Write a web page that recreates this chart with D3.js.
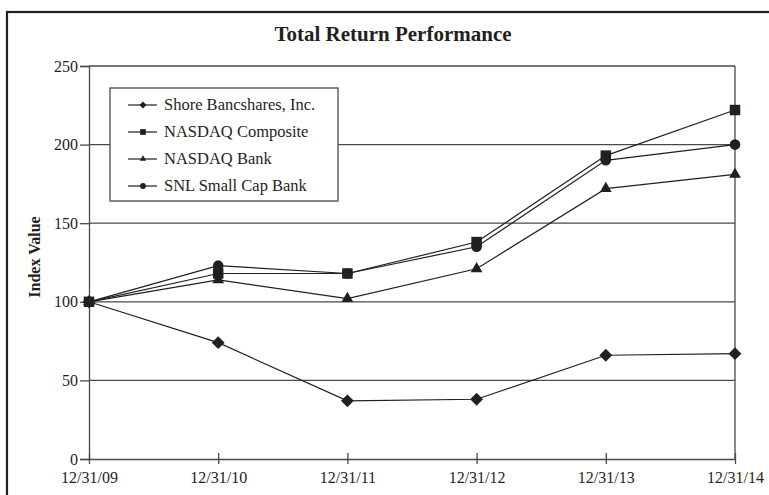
<!DOCTYPE html>
<html>
<head>
<meta charset="utf-8">
<script src="https://cdn.jsdelivr.net/npm/d3@7"></script>
<style>
  body { margin: 0; background: #fff; }
  svg { display: block; }
  svg text { font-family: "Liberation Serif", "Times New Roman", serif; }
</style>
</head>
<body>
<div id="chart"></div>
<script>
var dates = ["12/31/09", "12/31/10", "12/31/11", "12/31/12", "12/31/13", "12/31/14"];
var yTicks = [0, 50, 100, 150, 200, 250];

var shore = [100, 74, 37, 38, 66, 67];
var nasdaqComp = [100, 118, 118, 138, 193, 222];
var nasdaqBank = [100, 114, 102, 121, 172, 181];
var snlSmallCap = [100, 123, 118, 135, 190, 200];

var seriesNames = ["Shore Bancshares, Inc.", "NASDAQ Composite", "NASDAQ Bank", "SNL Small Cap Bank"];
var seriesValues = [shore, nasdaqComp, nasdaqBank, snlSmallCap];
var seriesSymbols = [d3.symbolDiamond2, d3.symbolSquare, d3.symbolTriangle, d3.symbolCircle];
var symbolSizes = [105, 110, 60, 88];

function init() {
    var W = 769, H = 495;
    var margin = {top: 66, right: 34, bottom: 36, left: 89};
    var w = W - margin.left - margin.right;
    var h = H - margin.top - margin.bottom;
    var ink = "#231f20";
    var grid = "#4a4a4a";

    var svg = d3.select("#chart").append("svg")
        .attr("width", W)
        .attr("height", H);

    // outer frame
    svg.append("rect")
        .attr("x", 7).attr("y", 12)
        .attr("width", W + 10).attr("height", H + 10)
        .attr("fill", "none")
        .attr("stroke", ink)
        .attr("stroke-width", 2.2);

    svg.append("text")
        .attr("x", 393).attr("y", 41)
        .attr("text-anchor", "middle")
        .attr("font-weight", "bold")
        .attr("font-size", 21)
        .attr("fill", ink)
        .text("Total Return Performance");

    var g = svg.append("g")
        .attr("transform", "translate(" + margin.left + "," + margin.top + ")");

    var x = d3.scalePoint().domain(dates).range([0, w]);
    var y = d3.scaleLinear().domain([0, 250]).range([h, 0]);

    // gridlines
    g.append("g").selectAll("line")
        .data(yTicks.filter(function(d) { return d > 0; }))
        .enter().append("line")
        .attr("x1", 0).attr("x2", w)
        .attr("y1", function(d) { return y(d); })
        .attr("y2", function(d) { return y(d); })
        .attr("stroke", grid)
        .attr("stroke-width", 1.3);

    // right edge
    g.append("line")
        .attr("x1", w).attr("x2", w)
        .attr("y1", 0).attr("y2", h)
        .attr("stroke", grid)
        .attr("stroke-width", 1.3);

    // y axis
    var yAxis = g.append("g")
        .call(d3.axisLeft(y).tickValues(yTicks).tickSize(9).tickPadding(2));
    yAxis.attr("font-family", null);
    yAxis.select(".domain").attr("stroke", grid).attr("stroke-width", 1.3);
    yAxis.selectAll(".tick line").attr("stroke", grid).attr("stroke-width", 1.3);
    yAxis.selectAll("text")
        .style("font-size", "16px")
        .attr("fill", ink);

    // x axis
    var xAxis = g.append("g")
        .attr("transform", "translate(0," + h + ")")
        .call(d3.axisBottom(x).tickSize(5).tickSizeOuter(0).tickPadding(8));
    xAxis.attr("font-family", null);
    xAxis.select(".domain").attr("stroke", grid).attr("stroke-width", 1.3);
    xAxis.selectAll(".tick line")
        .attr("y1", -6)
        .attr("y2", 5)
        .attr("stroke", grid).attr("stroke-width", 1.3);
    xAxis.selectAll("text")
        .style("font-size", "16px")
        .attr("fill", ink);

    svg.append("text")
        .attr("transform", "translate(40,257) rotate(-90)")
        .attr("text-anchor", "middle")
        .attr("font-weight", "bold")
        .attr("font-size", 16)
        .attr("fill", ink)
        .text("Index Value");

    var line = d3.line()
        .x(function(d, i) { return x(dates[i]); })
        .y(function(d) { return y(d); });

    seriesValues.forEach(function(vals) {
        g.append("path")
            .datum(vals)
            .attr("fill", "none")
            .attr("stroke", ink)
            .attr("stroke-width", 1.2)
            .attr("d", line);
    });

    seriesValues.forEach(function(vals, k) {
        g.append("g").selectAll("path")
            .data(vals)
            .enter().append("path")
            .attr("transform", function(d, i) {
                return "translate(" + x(dates[i]) + "," + y(d) + ")";
            })
            .attr("d", d3.symbol().type(seriesSymbols[k]).size(symbolSizes[k]))
            .attr("fill", ink);
    });

    // legend
    var legend = svg.append("g").attr("transform", "translate(110,88)");
    legend.append("rect")
        .attr("width", 228).attr("height", 113)
        .attr("fill", "#fff")
        .attr("stroke", grid)
        .attr("stroke-width", 1.3);

    var items = legend.selectAll("g.item")
        .data(seriesNames)
        .enter().append("g")
        .attr("class", "item")
        .attr("transform", function(d, i) { return "translate(0," + (17 + i * 27) + ")"; });

    items.append("line")
        .attr("x1", 18).attr("x2", 47)
        .attr("stroke", ink).attr("stroke-width", 1.2);
    items.append("path")
        .attr("transform", "translate(33,0)")
        .attr("d", function(d, i) {
            return d3.symbol().type(seriesSymbols[i]).size(symbolSizes[i] * 0.3)();
        })
        .attr("fill", ink);
    items.append("text")
        .attr("x", 54).attr("y", 5)
        .attr("font-size", 16.5)
        .attr("fill", ink)
        .text(function(d) { return d; });
}

window.onload = init;
</script>
</body>
</html>
